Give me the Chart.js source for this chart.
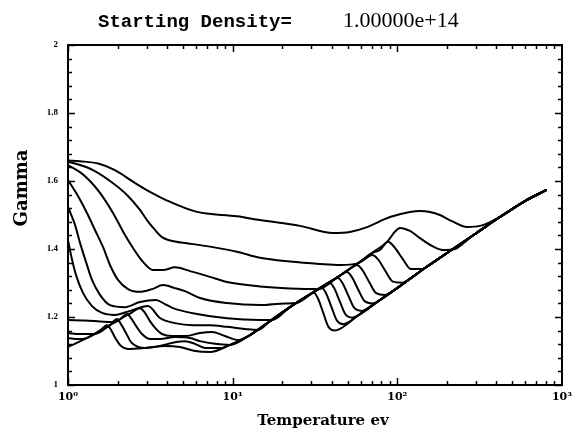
<!DOCTYPE html>
<html><head><meta charset="utf-8">
<script src="https://cdn.jsdelivr.net/npm/chart.js@4/dist/chart.umd.min.js"></script>
<style>html,body{margin:0;padding:0;background:#fff}canvas{display:block}</style>
</head><body>
<canvas id="c" width="583" height="443"></canvas>
<script>
// ---- text ----
const titleLeft = 'Starting Density=';
const titleRight = '1.00000e+14';
const xTitle = 'Temperature ev';
const yTitle = 'Gamma';
// ---- ticks ----
const xTickValues = [1, 10, 100, 1000];
const xTickLabels = ['10\u2070', '10\u00b9', '10\u00b2', '10\u00b3'];
const yTickValues = [1, 1.2, 1.4, 1.6, 1.8, 2];
const yTickLabels = ['1', '1.2', '1.4', '1.6', '1.8', '2'];

// ---- series (Temperature in eV, Gamma) ----
const tempC1 = [1,1.183,1.543,1.929,2.481,3.147,3.936,5.987,10.62,14.65,25.63,40.64,51.54,63.56,90.19,119.3,137.2,157.8,181.4,214.5,264.6,317.3,375.3,450.1,595.4,806.4];
const gammaC1 = [1.660,1.658,1.651,1.632,1.598,1.568,1.544,1.510,1.496,1.485,1.468,1.447,1.450,1.462,1.494,1.509,1.512,1.509,1.500,1.482,1.465,1.468,1.482,1.503,1.541,1.574];

const tempC2 = [1,1.183,1.418,1.799,2.282,2.736,3.018,3.374,3.721,4.463,5.278,7.280,10.62,14.65,22.28,33.88,44.83,56.85,70.13,87.70,96.70,103.7,119.3,137.2,162.2,189.2,223.7,257.3,295.9,419.7,595.4,806.4];
const gammaC2 = [1.657,1.647,1.632,1.600,1.559,1.515,1.485,1.456,1.435,1.422,1.417,1.407,1.392,1.374,1.363,1.356,1.353,1.357,1.388,1.424,1.451,1.462,1.453,1.432,1.409,1.397,1.400,1.421,1.444,1.494,1.541,1.574];

const tempC3 = [1,1.183,1.360,1.564,1.876,2.219,2.481,2.854,3.281,3.774,4.463,5.504,7.280,9.235,14.65,22.28,32.95,43.59,56.85,70.13,78.41,87.70,95.76,107.7,121.1,140.3,157.8,208.6,295.9,419.7,595.4,806.4];
const gammaC3 = [1.647,1.626,1.600,1.565,1.506,1.441,1.403,1.362,1.338,1.338,1.346,1.335,1.318,1.303,1.290,1.284,1.282,1.318,1.356,1.388,1.397,1.421,1.406,1.371,1.341,1.341,1.354,1.394,1.444,1.494,1.541,1.574];

const tempC4 = [1,1.150,1.304,1.458,1.631,1.799,2.012,2.314,2.736,3.236,3.774,4.463,5.133,6.332,9.235,14.65,20.78,24.23,31.16,43.59,56.85,62.70,70.13,75.93,84.45,93.91,107.3,119.3,147.1,208.6,295.9,419.7,595.4,806.4];
const gammaC4 = [1.603,1.556,1.506,1.456,1.406,1.353,1.309,1.282,1.274,1.282,1.294,1.285,1.276,1.256,1.241,1.235,1.240,1.241,1.274,1.318,1.356,1.369,1.382,1.371,1.336,1.304,1.301,1.312,1.344,1.394,1.444,1.494,1.541,1.574];

const tempC5 = [1,1.103,1.183,1.286,1.399,1.564,1.799,2.219,2.736,3.421,3.880,4.340,5.741,9.235,14.65,17.32,22.28,31.16,43.59,50.82,56.85,61.18,67.46,74.39,84.07,92.73,103.7,147.1,208.6,295.9,419.7,595.4,806.4];
const gammaC5 = [1.524,1.471,1.418,1.362,1.309,1.265,1.235,1.229,1.244,1.250,1.238,1.226,1.211,1.196,1.191,1.191,1.229,1.274,1.318,1.340,1.353,1.339,1.303,1.270,1.265,1.275,1.291,1.344,1.394,1.444,1.494,1.541,1.574];

const tempC6 = [1,1.043,1.118,1.233,1.399,1.609,1.929,2.379,3.060,3.619,4.463,5.741,7.280,9.235,11.88,14.24,16.85,22.28,31.16,43.59,49.43,52.86,57.81,63.21,70.69,77.33,103.7,147.1,208.6,295.9,419.7,595.4,806.4];
const gammaC6 = [1.426,1.382,1.324,1.271,1.232,1.212,1.206,1.218,1.232,1.197,1.182,1.176,1.176,1.171,1.165,1.162,1.188,1.229,1.274,1.318,1.332,1.318,1.281,1.247,1.240,1.248,1.291,1.344,1.394,1.444,1.494,1.541,1.574];

const tempC7 = [1,1.268,1.564,1.850,2.069,2.379,2.736,2.935,3.147,3.421,3.721,4.280,5.205,6.332,7.486,8.979,10.77,12.74,16.85,22.28,31.16,38.98,43.59,46.42,50.47,54.90,60.96,66.31,78.41,103.7,147.1,208.6,295.9,419.7,595.4,806.4];
const gammaC7 = [1.191,1.190,1.187,1.185,1.194,1.210,1.226,1.212,1.188,1.165,1.150,1.144,1.144,1.153,1.156,1.144,1.132,1.147,1.188,1.229,1.274,1.303,1.315,1.300,1.262,1.226,1.218,1.225,1.250,1.291,1.344,1.394,1.444,1.494,1.541,1.574];

const tempC8 = [1,1.183,1.458,1.799,2.069,2.282,2.413,2.588,2.814,3.147,3.619,4.463,5.504,6.332,7.807,9.630,12.74,16.85,22.28,31.16,34.84,38.98,41.33,44.71,48.35,53.32,57.66,78.41,103.7,147.1,208.6,295.9,419.7,595.4,806.4];
const gammaC8 = [1.153,1.150,1.150,1.176,1.193,1.209,1.197,1.174,1.150,1.135,1.135,1.141,1.138,1.129,1.121,1.118,1.147,1.188,1.229,1.274,1.288,1.300,1.285,1.246,1.208,1.198,1.204,1.250,1.291,1.344,1.394,1.444,1.494,1.541,1.574];

const tempC9 = [1,1.150,1.304,1.564,1.799,1.984,2.098,2.250,2.413,2.661,2.935,3.619,4.463,5.133,5.904,6.789,8.610,9.630,12.74,16.85,22.28,31.16,34.84,36.88,39.78,42.90,47.14,50.82,59.28,78.41,103.7,147.1,208.6,295.9,419.7,595.4,806.4];
const gammaC9 = [1.138,1.135,1.138,1.160,1.176,1.194,1.179,1.153,1.126,1.112,1.109,1.115,1.126,1.129,1.121,1.109,1.109,1.118,1.147,1.188,1.229,1.274,1.285,1.270,1.230,1.190,1.179,1.185,1.209,1.250,1.291,1.344,1.394,1.444,1.494,1.541,1.574];

const tempC10 = [1,1.323,1.564,1.725,1.824,1.956,2.098,2.314,2.935,3.880,4.786,5.904,7.280,9.630,12.74,16.85,22.28,27.86,31.16,32.91,35.39,38.07,41.69,44.83,59.28,78.41,103.7,147.1,208.6,295.9,419.7,595.4,806.4];
const gammaC10 = [1.112,1.140,1.160,1.176,1.162,1.135,1.115,1.106,1.109,1.115,1.112,1.100,1.097,1.118,1.147,1.188,1.229,1.259,1.271,1.255,1.214,1.172,1.160,1.165,1.209,1.250,1.291,1.344,1.394,1.444,1.494,1.541,1.574];

const series = [
  [tempC1, gammaC1], [tempC2, gammaC2], [tempC3, gammaC3], [tempC4, gammaC4], [tempC5, gammaC5],
  [tempC6, gammaC6], [tempC7, gammaC7], [tempC8, gammaC8], [tempC9, gammaC9], [tempC10, gammaC10]
];

const datasets = series.map(([t, g], i) => ({
  label: 'curve ' + (i + 1),
  data: t.map((v, j) => ({ x: v, y: g[j] })),
  borderColor: '#000',
  borderWidth: 2,
  pointRadius: 0,
  fill: false,
  cubicInterpolationMode: 'monotone'
}));

const framePlugin = {
  id: 'frame',
  afterDraw(chart) {
    const ctx = chart.ctx;
    const { left, right, top, bottom } = chart.chartArea;
    const xs = chart.scales.x, ys = chart.scales.y;
    ctx.save();
    ctx.strokeStyle = '#000';
    ctx.lineWidth = 1.5;
    ctx.beginPath();
    for (const d of [1, 10, 100]) {
      for (let m = 1; m <= 9; m++) {
        const px = Math.round(xs.getPixelForValue(d * m)) + 0.5;
        const len = m === 1 ? 7 : 4;
        ctx.moveTo(px, bottom); ctx.lineTo(px, bottom - len);
        ctx.moveTo(px, top); ctx.lineTo(px, top + len);
      }
    }
    for (let i = 0; i <= 25; i++) {
      const py = Math.round(ys.getPixelForValue(1 + i * 0.04)) + 0.5;
      const len = i % 5 === 0 ? 7 : 4;
      ctx.moveTo(left, py); ctx.lineTo(left + len, py);
      ctx.moveTo(right, py); ctx.lineTo(right - len, py);
    }
    ctx.stroke();
    ctx.lineWidth = 2;
    ctx.strokeRect(left, top, right - left, bottom - top);

    ctx.fillStyle = '#000';
    ctx.textBaseline = 'alphabetic';
    ctx.textAlign = 'left';
    ctx.font = 'bold 19px "Liberation Mono"';
    ctx.fillText(titleLeft, 98, 27);
    ctx.font = '22px "Liberation Serif"';
    ctx.fillText(titleRight, 343, 27);

    ctx.textAlign = 'center';
    ctx.textBaseline = 'middle';
    ctx.font = 'bold 15px "DejaVu Serif"';
    ctx.fillText(xTitle, 323, 421);
    ctx.save();
    ctx.translate(22, 188);
    ctx.rotate(-Math.PI / 2);
    ctx.font = 'bold 18px "DejaVu Serif"';
    ctx.fillText(yTitle, 0, 0);
    ctx.restore();
    ctx.restore();
  }
};

new Chart(document.getElementById('c'), {
  type: 'line',
  data: { datasets },
  options: {
    responsive: false,
    animation: false,
    devicePixelRatio: 1,
    layout: { padding: { top: 45, right: 21, left: 0, bottom: 0 } },
    plugins: { legend: { display: false }, tooltip: { enabled: false } },
    scales: {
      x: {
        type: 'logarithmic', min: 1, max: 1000,
        grid: { display: false, drawTicks: false },
        border: { display: false },
        afterBuildTicks(s) { s.ticks = xTickValues.map(v => ({ value: v, major: true })); },
        ticks: {
          callback: (v) => { const i = xTickValues.indexOf(v); return i >= 0 ? xTickLabels[i] : ''; },
          font: { family: '"DejaVu Serif"', size: 11, weight: 'bold' },
          color: '#000', padding: 6, maxRotation: 0, autoSkip: false
        },
        afterFit(s) { s.height = 58; }
      },
      y: {
        type: 'linear', min: 1, max: 2,
        grid: { display: false, drawTicks: false },
        border: { display: false },
        afterBuildTicks(s) { s.ticks = yTickValues.map(v => ({ value: v })); },
        ticks: {
          callback: (v, i) => yTickLabels[i],
          font: { family: '"Liberation Serif"', size: 9, weight: 'bold' },
          color: '#000', padding: 10
        },
        afterFit(s) { s.width = 68; }
      }
    }
  },
  plugins: [framePlugin]
});
</script>
</body></html>
